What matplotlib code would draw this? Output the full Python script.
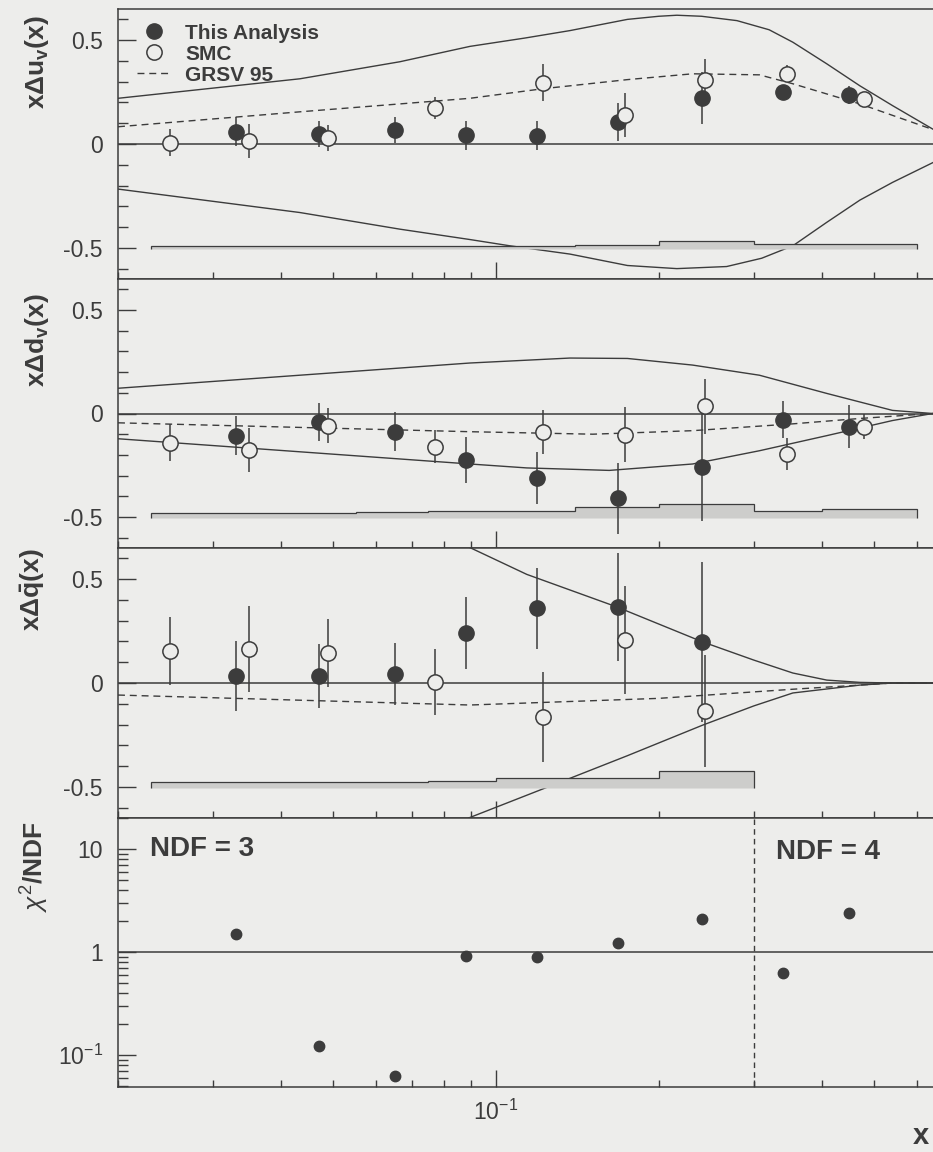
import numpy as np
import matplotlib
matplotlib.use("Agg")
import matplotlib.pyplot as plt
from matplotlib.lines import Line2D
from matplotlib.ticker import LogLocator, MultipleLocator, NullFormatter, FixedLocator

plt.rcParams['font.family'] = ['Liberation Sans', 'DejaVu Sans']
plt.rcParams['mathtext.fontset'] = 'custom'
plt.rcParams['mathtext.rm'] = 'Liberation Sans'
plt.rcParams['mathtext.bf'] = 'Liberation Sans:bold'
plt.rcParams['mathtext.it'] = 'Liberation Sans:italic'
plt.rcParams['axes.unicode_minus'] = False

ink = '#3c3c3c'
paper = '#ededeb'

# bin centres and systematic-band bin edges
x_her = [0.033, 0.047, 0.065, 0.088, 0.119, 0.168, 0.24, 0.34, 0.45]
x_smc = [0.025, 0.035, 0.049, 0.077, 0.122, 0.173, 0.243, 0.345, 0.48]
bin_edges = [0.023, 0.04, 0.055, 0.075, 0.1, 0.14, 0.2, 0.3, 0.4, 0.6]

# x Delta u_v
uv_her = [0.058, 0.048, 0.068, 0.043, 0.039, 0.106, 0.222, 0.251, 0.237]
uv_her_err = [0.07, 0.063, 0.063, 0.07, 0.07, 0.09, 0.124, 0.03, 0.043]
uv_smc = [0.005, 0.015, 0.03, 0.174, 0.295, 0.14, 0.31, 0.338, 0.217]
uv_smc_err = [0.065, 0.08, 0.063, 0.053, 0.088, 0.105, 0.1, 0.04, 0.03]
uv_sys = [0.012, 0.012, 0.012, 0.012, 0.012, 0.02, 0.036, 0.025, 0.025]
uv_hi_x = [0.02, 0.0434, 0.0664, 0.0895, 0.113, 0.137, 0.175, 0.2, 0.216, 0.24, 0.279,
           0.32, 0.354, 0.409, 0.471, 0.541, 0.642]
uv_hi = [0.22, 0.314, 0.396, 0.47, 0.51, 0.546, 0.60, 0.615, 0.62, 0.615, 0.594,
         0.55, 0.49, 0.386, 0.28, 0.185, 0.072]
uv_lo_x = [0.02, 0.0434, 0.0664, 0.0895, 0.106, 0.137, 0.175, 0.216, 0.267, 0.31, 0.354,
           0.409, 0.471, 0.541, 0.642]
uv_lo = [-0.217, -0.33, -0.41, -0.46, -0.49, -0.53, -0.585, -0.60, -0.59, -0.55, -0.49,
         -0.377, -0.27, -0.185, -0.09]
uv_grsv_x = [0.02, 0.0434, 0.0664, 0.0895, 0.122, 0.175, 0.231, 0.307, 0.354, 0.471, 0.642]
uv_grsv = [0.083, 0.155, 0.193, 0.22, 0.266, 0.31, 0.338, 0.333, 0.29, 0.193, 0.07]

# x Delta d_v
dv_her = [-0.107, -0.039, -0.088, -0.224, -0.312, -0.41, -0.259, -0.029, -0.063]
dv_her_err = [0.093, 0.092, 0.095, 0.11, 0.125, 0.17, 0.26, 0.088, 0.105]
dv_smc = [-0.141, -0.176, -0.058, -0.161, -0.088, -0.102, 0.034, -0.195, -0.063]
dv_smc_err = [0.088, 0.106, 0.083, 0.08, 0.106, 0.134, 0.133, 0.078, 0.06]
dv_sys = [0.022, 0.022, 0.027, 0.033, 0.036, 0.053, 0.066, 0.036, 0.044]
dv_hi_x = [0.02, 0.0895, 0.137, 0.175, 0.231, 0.307, 0.409, 0.541, 0.642]
dv_hi = [0.122, 0.244, 0.268, 0.266, 0.234, 0.185, 0.097, 0.015, 0.0]
dv_lo_x = [0.02, 0.0895, 0.114, 0.162, 0.231, 0.307, 0.409, 0.541, 0.642]
dv_lo = [-0.122, -0.244, -0.263, -0.275, -0.244, -0.18, -0.107, -0.034, 0.0]
dv_grsv_x = [0.02, 0.0895, 0.151, 0.231, 0.354, 0.471, 0.642]
dv_grsv = [-0.045, -0.088, -0.1, -0.083, -0.05, -0.024, 0.0]

# x Delta qbar (first seven bins only)
qb_her = [0.034, 0.034, 0.043, 0.24, 0.36, 0.367, 0.198]
qb_her_err = [0.17, 0.155, 0.15, 0.174, 0.195, 0.26, 0.386]
qb_smc = [0.155, 0.164, 0.145, 0.005, -0.164, 0.208, -0.135]
qb_smc_err = [0.163, 0.205, 0.165, 0.16, 0.217, 0.26, 0.27]
qb_sys = [0.03, 0.03, 0.03, 0.034, 0.048, 0.048, 0.082]
qb_hi_x = [0.089, 0.114, 0.167, 0.241, 0.3, 0.354, 0.409, 0.471, 0.541, 0.642]
qb_hi = [0.655, 0.523, 0.367, 0.198, 0.11, 0.048, 0.014, 0.003, 0.0, 0.0]
qb_lo_x = [0.089, 0.137, 0.175, 0.241, 0.3, 0.354, 0.471, 0.541, 0.642]
qb_lo = [-0.65, -0.459, -0.35, -0.203, -0.11, -0.048, -0.01, 0.0, 0.0]
qb_grsv_x = [0.02, 0.0895, 0.2, 0.354, 0.471, 0.541, 0.642]
qb_grsv = [-0.058, -0.106, -0.074, -0.03, -0.01, 0.0, 0.0]

# chi2 / NDF
chi2 = [1.50, 0.122, 0.0625, 0.914, 0.894, 1.22, 2.09, 0.625, 2.39]

fig = plt.figure(figsize=(9.33, 11.52), dpi=100, facecolor=paper)
W, H = 933.0, 1152.0
edges_px = [9, 279, 548, 818, 1087]
left_px, right_px = 118, 953

axes = []
for i in range(4):
    top, bot = edges_px[i], edges_px[i + 1]
    rect = [left_px / W, (H - bot) / H, (right_px - left_px) / W, (bot - top) / H]
    ax = fig.add_axes(rect, sharex=axes[0] if axes else None)
    ax.set_facecolor(paper)
    for s in ax.spines.values():
        s.set_color(ink)
        s.set_linewidth(1.1)
    axes.append(ax)

for ax in axes:
    ax.set_xscale('log')
    ax.set_xlim(0.02, 0.7)
    ax.xaxis.set_major_locator(LogLocator(base=10))
    ax.xaxis.set_minor_locator(LogLocator(base=10, subs=np.arange(2, 10)))
    ax.xaxis.set_minor_formatter(NullFormatter())
    ax.tick_params(axis='x', which='major', direction='in', length=12, width=1, color=ink,
                   top=False, labelsize=16.5, labelcolor=ink, pad=9)
    ax.tick_params(axis='x', which='minor', direction='in', length=5, width=1, color=ink, top=False)
    ax.tick_params(axis='y', which='major', direction='in', length=13, width=1, color=ink,
                   right=False, labelsize=16.5, labelcolor=ink, pad=11)
    ax.tick_params(axis='y', which='minor', direction='in', length=7, width=1, color=ink, right=False)

for ax in axes[:3]:
    ax.tick_params(axis='x', labelbottom=False)

panels = [
    (uv_her, uv_her_err, uv_smc, uv_smc_err, uv_sys, uv_hi_x, uv_hi, uv_lo_x, uv_lo, uv_grsv_x, uv_grsv),
    (dv_her, dv_her_err, dv_smc, dv_smc_err, dv_sys, dv_hi_x, dv_hi, dv_lo_x, dv_lo, dv_grsv_x, dv_grsv),
    (qb_her, qb_her_err, qb_smc, qb_smc_err, qb_sys, qb_hi_x, qb_hi, qb_lo_x, qb_lo, qb_grsv_x, qb_grsv),
]
ylabels = [r'x$\mathbf{\Delta}$u$_{\mathbf{v}}$(x)',
           r'x$\mathbf{\Delta}$d$_{\mathbf{v}}$(x)',
           r'x$\mathbf{\Delta\bar{q}}$(x)',
           r'$\chi^2$/NDF']
label_y = [0.978, 0.948, 1.0, 0.99]
label_x = [-0.097, -0.097, -0.102, -0.099]

base = -0.505
dash = (5, 3.5)
for ax, (hv, he, sv, se, sys, hx, hy, lx, ly, gx, gy) in zip(axes[:3], panels):
    n = len(hv)
    ax.set_ylim(-0.65, 0.65)
    ax.yaxis.set_major_locator(FixedLocator([-0.5, 0, 0.5]))
    ax.set_yticklabels(['-0.5', '0', '0.5'])
    ax.yaxis.set_minor_locator(MultipleLocator(0.1))
    ax.axhline(0, color=ink, lw=1.1, zorder=1)
    ax.plot(hx, hy, color=ink, lw=1.0, zorder=2)
    ax.plot(lx, ly, color=ink, lw=1.0, zorder=2)
    ax.plot(gx, gy, color=ink, lw=1.0, dashes=dash, zorder=2)
    ax.stairs(np.array(sys) + base, bin_edges[:len(sys) + 1], baseline=base, fill=True,
              facecolor='#cdcdcb', edgecolor=ink, lw=0.9, zorder=2)
    ax.errorbar(x_her[:n], hv, yerr=he, fmt='o', ms=11, mfc=ink, mec=ink,
                ecolor=ink, elinewidth=1.1, capsize=0, zorder=3)
    ax.errorbar(x_smc[:n], sv, yerr=se, fmt='o', ms=11, mfc=paper, mec=ink, mew=1.1,
                ecolor=ink, elinewidth=1.1, capsize=0, zorder=4)

ax4 = axes[3]
ax4.set_yscale('log')
ax4.set_ylim(0.049, 20)
ax4.set_yticks([0.1, 1, 10], labels=[r'$10^{-1}$', '1', '10'])
ax4.yaxis.set_minor_locator(LogLocator(base=10, subs=np.arange(2, 10)))
ax4.yaxis.set_minor_formatter(NullFormatter())
ax4.tick_params(axis='y', which='major', length=13)
ax4.axhline(1, color=ink, lw=1.1, zorder=1)
ax4.axvline(0.3, color=ink, lw=1.0, dashes=(4, 3), zorder=1)
ax4.plot(x_her, chi2, 'o', ms=7.5, color=ink, zorder=3)
ax4.text(0.0229, 10, 'NDF = 3', fontsize=20, weight='bold', color=ink, va='center', ha='left')
ax4.text(0.329, 9.3, 'NDF = 4', fontsize=20, weight='bold', color=ink, va='center', ha='left')

for ax, lab, lx_, ly_ in zip(axes, ylabels, label_x, label_y):
    ax.text(lx_, ly_, lab, transform=ax.transAxes, rotation=90, ha='center', va='top',
            fontsize=19, weight='bold', color=ink)

handles = [Line2D([], [], marker='o', ls='none', ms=11, mfc=ink, mec=ink),
           Line2D([], [], marker='o', ls='none', ms=11, mfc=paper, mec=ink, mew=1.1),
           Line2D([], [], color=ink, lw=1.0, dashes=dash)]
leg = axes[0].legend(handles, ['This Analysis', 'SMC', 'GRSV 95'], loc='upper left',
                     bbox_to_anchor=(0.0228, 0.946), frameon=False, handlelength=1.6,
                     handletextpad=0.7, labelspacing=0.1, borderpad=0, borderaxespad=0,
                     prop={'weight': 'bold', 'size': 15})
for t in leg.get_texts():
    t.set_color(ink)

fig.text(913 / W, 1 - 1150 / H, 'x', fontsize=21, weight='bold', color=ink, ha='left', va='bottom')

fig.savefig('out.png', dpi=100, facecolor=paper)
